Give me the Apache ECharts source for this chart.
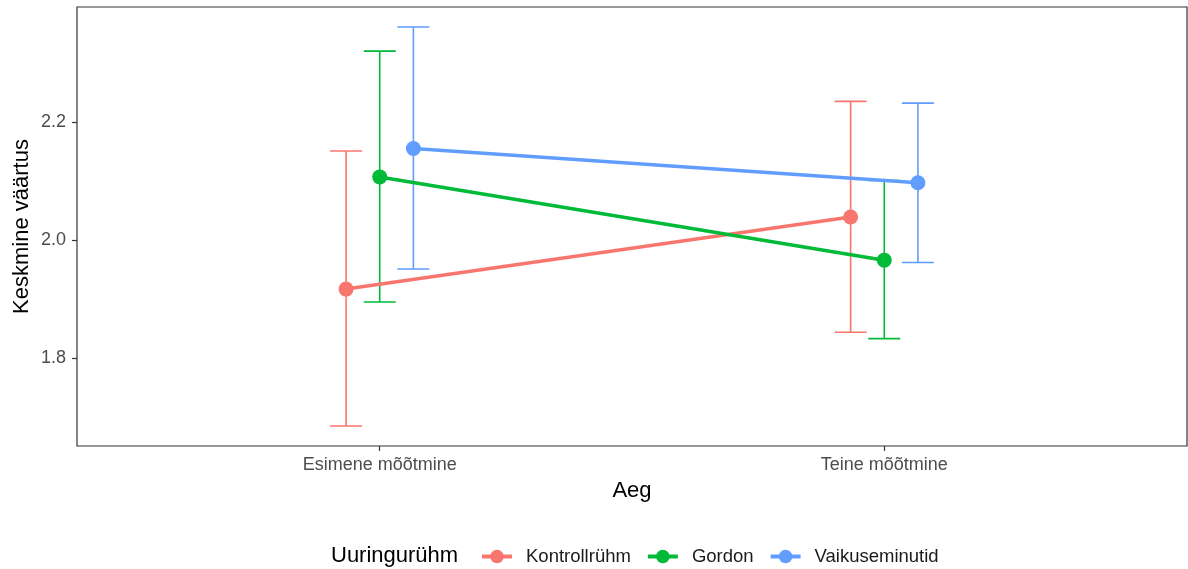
<!DOCTYPE html>
<html>
<head>
<meta charset="utf-8">
<script src="https://cdn.jsdelivr.net/npm/echarts@6/dist/echarts.min.js"></script>
<style>
  html, body { margin: 0; padding: 0; background: #fff; }
  #main { width: 1188px; height: 569px; }
</style>
</head>
<body>
<div id="main"></div>
<script>
// andmed (loetud pildilt)
var categories = ['Esimene mõõtmine', 'Teine mõõtmine'];
var groups = ['Kontrollrühm', 'Gordon', 'Vaikuseminutid'];

var kontrollMean = [1.917, 2.039];
var kontrollLow  = [1.685, 1.844];
var kontrollHigh = [2.151, 2.235];

var gordonMean = [2.107, 1.966];
var gordonLow  = [1.895, 1.833];
var gordonHigh = [2.320, 2.101];

var vaikusMean = [2.155, 2.097];
var vaikusLow  = [1.951, 1.962];
var vaikusHigh = [2.361, 2.232];

var yTicks = [1.8, 2.0, 2.2];

var colors = ['#F8766D', '#00BA38', '#619CFF'];
var FONT = '"Liberation Sans", Arial, sans-serif';
var DODGE = 0.0667; // position_dodge

var means = [kontrollMean, gordonMean, vaikusMean];
var lows = [kontrollLow, gordonLow, vaikusLow];
var highs = [kontrollHigh, gordonHigh, vaikusHigh];

// y telje ulatus nagu ggplot (5% laiendus)
var allLow = Math.min.apply(null, lows.map(function (a) { return Math.min.apply(null, a); }));
var allHigh = Math.max.apply(null, highs.map(function (a) { return Math.max.apply(null, a); }));
var pad = (allHigh - allLow) * 0.05;

function errorBarItem(params, api) {
	var x = api.value(0);
	var top = api.coord([x, api.value(2)]);
	var bot = api.coord([x, api.value(1)]);
	var half = 16;
	var style = { stroke: api.visual('color'), lineWidth: 1.6 };
	return {
		type: 'group',
		children: [
			{ type: 'line', shape: { x1: top[0], y1: top[1], x2: bot[0], y2: bot[1] }, style: style },
			{ type: 'line', shape: { x1: top[0] - half, y1: top[1], x2: top[0] + half, y2: top[1] }, style: style },
			{ type: 'line', shape: { x1: bot[0] - half, y1: bot[1], x2: bot[0] + half, y2: bot[1] }, style: style }
		]
	};
}

var series = [];
for (var g = 0; g < groups.length; g++) {
	var off = (g - 1) * DODGE;
	var errData = [];
	var lineData = [];
	for (var i = 0; i < categories.length; i++) {
		errData.push([i + 1 + off, lows[g][i], highs[g][i]]);
		lineData.push([i + 1 + off, means[g][i]]);
	}
	series.push({
		name: groups[g] + '_vead',
		type: 'custom',
		renderItem: errorBarItem,
		itemStyle: { color: colors[g] },
		encode: { x: 0, y: [1, 2] },
		data: errData,
		z: 2
	});
	series.push({
		name: groups[g],
		type: 'line',
		data: lineData,
		symbol: 'circle',
		symbolSize: 15,
		itemStyle: { color: colors[g] },
		lineStyle: { color: colors[g], width: 3.5 },
		z: 3
	});
}

var myChart = echarts.init(document.getElementById('main'));
var option = {
	animation: false,
	backgroundColor: '#fff',
	textStyle: { fontFamily: FONT },
	title: {
		text: 'Uuringurühm',
		left: 331,
		top: 545,
		padding: 0,
		textStyle: { fontFamily: FONT, fontSize: 22, fontWeight: 'normal', color: '#000' }
	},
	legend: {
		data: groups,
		left: 480,
		top: 547,
		padding: 0,
		itemWidth: 30,
		itemHeight: 17,
		itemGap: 15,
		lineStyle: { width: 4 },
		textStyle: { fontFamily: FONT, fontSize: 18.5, color: '#1a1a1a', padding: [0, 0, 0, 9] }
	},
	grid: {
		left: 77,
		right: 1,
		top: 7,
		bottom: 123,
		show: true,
		borderColor: '#333333',
		borderWidth: 1.2
	},
	xAxis: {
		type: 'value',
		min: 0.4,
		max: 2.6,
		name: 'Aeg',
		nameLocation: 'middle',
		nameGap: 34,
		nameTextStyle: { fontFamily: FONT, fontSize: 22, color: '#000' },
		axisLine: { show: false },
		splitLine: { show: false },
		axisTick: { show: true, customValues: [1, 2], length: 5, lineStyle: { color: '#333333', width: 1.2 } },
		axisLabel: {
			customValues: [1, 2],
			margin: 10,
			fontFamily: FONT,
			fontSize: 18,
			color: '#4D4D4D',
			formatter: function (v) { return categories[Math.round(v) - 1] || ''; }
		}
	},
	yAxis: {
		type: 'value',
		min: allLow - pad,
		max: allHigh + pad,
		name: 'Keskmine väärtus',
		nameLocation: 'middle',
		nameRotate: 90,
		nameGap: 44,
		nameMoveOverlap: false,
		nameTextStyle: { fontFamily: FONT, fontSize: 22, color: '#000' },
		axisLine: { show: false },
		splitLine: { show: false },
		axisTick: { show: true, customValues: yTicks, length: 5, lineStyle: { color: '#333333', width: 1.2 } },
		axisLabel: {
			customValues: yTicks,
			margin: 11,
			fontFamily: FONT,
			fontSize: 18,
			color: '#4D4D4D',
			formatter: function (v) { return v.toFixed(1); }
		}
	},
	series: series
};
myChart.setOption(option);
</script>
</body>
</html>
